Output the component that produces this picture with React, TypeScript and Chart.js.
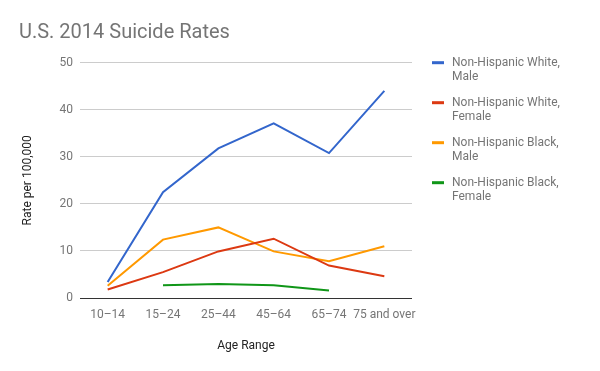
import React, { useEffect, useRef } from "react";
import { Chart, registerables } from "chart.js";

Chart.register(...registerables);

const TITLE = "U.S. 2014 Suicide Rates";
const categories = ["10–14", "15–24", "25–44", "45–64", "65–74", "75 and over"];
const whiteMale = [3.4, 22.5, 31.8, 37.1, 30.8, 44.0];
const whiteFemale = [1.8, 5.5, 9.9, 12.6, 6.9, 4.6];
const blackMale = [2.6, 12.4, 15.0, 9.9, 7.8, 11.0];
const blackFemale = [null, 2.7, 3.0, 2.7, 1.6, null];
const seriesNames = [
  ["Non-Hispanic White,", "Male"],
  ["Non-Hispanic White,", "Female"],
  ["Non-Hispanic Black,", "Male"],
  ["Non-Hispanic Black,", "Female"],
];
const seriesColors = ["#3366cc", "#dc3912", "#ff9900", "#109618"];
const yTicks = [0, 10, 20, 30, 40, 50];

const FONT = "Roboto";

const customPlugin = {
  id: "customDecor",
  afterDraw(chart: any) {
    const ctx = chart.ctx;
    ctx.save();
    ctx.fillStyle = "#757575";
    ctx.font = `20px ${FONT}`;
    ctx.textBaseline = "alphabetic";
    ctx.textAlign = "left";
    ctx.fillText(TITLE, 19, 38);

    ctx.font = `12px ${FONT}`;
    ctx.textBaseline = "middle";
    seriesNames.forEach((lines, i) => {
      const y = 62.7 + i * 40;
      ctx.fillStyle = seriesColors[i];
      ctx.fillRect(432, y - 1.5, 12, 3);
      ctx.fillStyle = "#757575";
      lines.forEach((t, j) => ctx.fillText(t, 452, y + j * 14.7));
    });
    ctx.restore();
  },
};

export default function App() {
  const ref = useRef<HTMLCanvasElement>(null);
  useEffect(() => {
    document.body.style.margin = "0";
    const data = [whiteMale, whiteFemale, blackMale, blackFemale];
    const chart = new Chart(ref.current as HTMLCanvasElement, {
      type: "line",
      data: {
        labels: categories,
        datasets: data.map((d, i) => ({
          label: seriesNames[i].join(" "),
          data: d,
          borderColor: seriesColors[i],
          backgroundColor: seriesColors[i],
          borderWidth: 2,
          pointRadius: 0,
          tension: 0,
          fill: false,
        })),
      },
      options: {
        animation: false,
        responsive: false,
        layout: { padding: { top: 62.7, right: 188, bottom: 0, left: 0 } },
        plugins: {
          legend: { display: false },
          title: { display: false },
          tooltip: { enabled: false },
        },
        scales: {
          x: {
            offset: true,
            grid: { display: false },
            border: { display: false },
            ticks: { color: "#757575", font: { family: FONT, size: 12 }, padding: 2, maxRotation: 0, autoSkip: false },
            title: { display: true, text: "Age Range", color: "#222", font: { family: FONT, size: 12 }, padding: { top: 0, bottom: 18 } },
            afterFit: (s: any) => { s.height = 73; },
          },
          y: {
            min: 0,
            max: 50,
            afterBuildTicks: (s: any) => { s.ticks = yTicks.map((v) => ({ value: v })); },
            grid: {
              color: (c: any) => (c.tick && c.tick.value === 0 ? "#333" : "#ccc"),
              drawTicks: false,
              lineWidth: 1,
            },
            border: { display: false },
            ticks: { color: "#757575", font: { family: FONT, size: 12 }, padding: 7 },
            title: { display: true, text: "Rate per 100,000", color: "#222", font: { family: FONT, size: 12 }, padding: { top: 21, bottom: 0 } },
            afterFit: (s: any) => { s.width = 80; },
          },
        },
      },
      plugins: [customPlugin],
    });
    return () => chart.destroy();
  }, []);
  return <canvas ref={ref} width={600} height={371} style={{ display: "block" }} />;
}
